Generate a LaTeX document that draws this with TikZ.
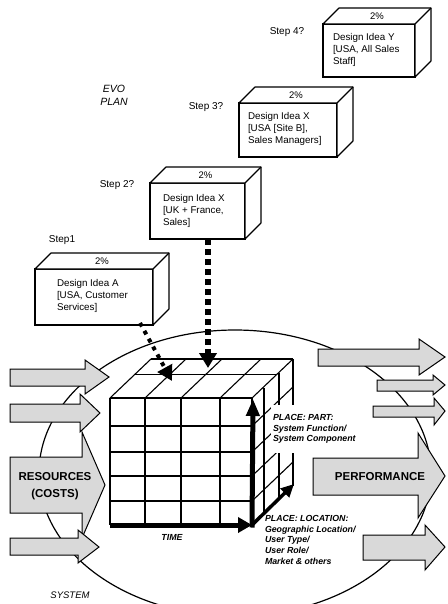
\documentclass[tikz,border=0pt]{standalone}
\usepackage{fontspec}
\setmainfont{Liberation Sans}
\usetikzlibrary{arrows.meta,calc}
\newcommand\evoarrow[8]{\draw[blockarrow] (#1,#2) -- (#4,#2) -- (#4,#5) -- (#7,#8) -- (#4,#6) -- (#4,#3) -- (#1,#3) -- cycle;}
\begin{document}
\begin{tikzpicture}[x=1pt,y=-1pt,
  every node/.style={inner sep=0pt, outer sep=0pt},
  face/.style={draw, line width=1.1pt, line join=round},
  frontface/.style={draw, line width=1.1pt, fill=white},
  boxtext/.style={anchor=north west, align=left, font=\fontsize{9.8}{12}\selectfont},
  steplabel/.style={font=\fontsize{10}{12}\selectfont},
  pct/.style={font=\fontsize{9.5}{11}\selectfont},
  blockarrow/.style={draw, line width=1pt, fill=black!15, line join=miter},
  gridline/.style={line width=1.1pt},
  placelabel/.style={anchor=north west, align=left, fill=white, font=\bfseries\itshape\fontsize{8.8}{10.9}\selectfont},
  dotarrow/.style={line width=4pt, dash pattern=on 4pt off 5pt, -{Triangle[length=15pt,width=16pt]}},
  dasharrow/.style={line width=6pt, dash pattern=on 6pt off 4pt, -{Triangle[length=15pt,width=17pt]}},
]
\useasboundingbox (0,0) rectangle (447,604);

% system ellipse
\draw[line width=1.2pt] (235,473) ellipse [x radius=196, y radius=143];

% resource arrows (left)
\evoarrow{10}{369}{386}{85}{360}{394}{109}{377}
\evoarrow{10}{404}{422}{80}{394}{432}{100}{413}
\evoarrow{10}{457}{513}{82}{432}{538}{105}{485}
\evoarrow{10}{538}{555}{78}{530}{563}{99}{547}
% performance arrows (right)
\evoarrow{318}{349}{366}{419}{339}{375}{445}{357}
\evoarrow{377}{380}{391}{433}{375}{395}{445}{385}
\evoarrow{373}{406}{417}{434}{398}{425}{445}{411}
\evoarrow{313}{458}{495}{418}{433}{518}{445}{476}
\evoarrow{363}{535}{560}{425}{525}{570}{445}{547}

\node[font=\bfseries\fontsize{11.5}{17}\selectfont, align=center] (res) at (55,486) {RESOURCES\\(COSTS)};
\node[font=\bfseries\fontsize{11.5}{14}\selectfont] (perf) at (380,477) {PERFORMANCE};

% cube: front face grid
\fill[white] (110,398) -- (151,359) -- (293,359) -- (293,486) -- (252,525) -- (110,525) -- cycle;
\foreach \x in {110,145,181,220,252} \draw[gridline] (\x,398) -- (\x,525);
\foreach \y in {398,426,452,476,501,525} \draw[gridline] (110,\y) -- (252,\y);
% top face
\foreach \x in {110,145,181,220,252} \draw[gridline] (\x,398) -- ++(41,-39);
\draw[gridline] (151,359) -- (293,359);
\draw[gridline] (134.6,374.6) -- (276.6,374.6);
% right face
\foreach \y in {426,452,476,501} \draw[gridline] (252,\y) -- ++(41,-39);
\draw[gridline] (264,387.5) -- (264,514.5);
\draw[gridline] (279,373) -- (279,500);
\draw[gridline] (293,359) -- (293,486);

% cube labels (white background cuts the right face)
\node[placelabel, inner xsep=2pt, inner ysep=9pt] (part) at (271,405) {PLACE: PART:\\System Function/\\System Component};
\node[placelabel, inner xsep=1pt, inner ysep=1pt] (loc) at (264,514) {PLACE: LOCATION:\\Geographic Location/\\User Type/\\User Role/\\Market \& others};

% cube axes
\coordinate (o) at (252,525);
\coordinate (tx) at (110,525);
\coordinate (ty) at (253,399);
\coordinate (tz) at (294,484);
\draw[line width=5pt, -{Triangle[length=14pt,width=15pt]}] (tx) -- (o);
\draw[line width=5pt, -{Triangle[length=17pt,width=13pt]}] ([yshift=-2.5pt]o) -- (ty);
\draw[line width=3.5pt, -{Triangle[length=13pt,width=12pt]}] (o) -- (tz);
\node[font=\bfseries\itshape\fontsize{8.8}{11}\selectfont] (time) at (172,537) {TIME};
\node[font=\itshape\fontsize{9.5}{11}\selectfont] (sys) at (70,595) {SYSTEM};
\node[font=\itshape\fontsize{10.5}{13}\selectfont, align=center] (evo) at (114,95) {EVO\\PLAN};

% step boxes
\node[frontface, minimum width=118pt, minimum height=56pt] (b1) at (94,297) {};
\node[frontface, minimum width=95pt, minimum height=56pt] (b2) at (197.5,211) {};
\node[frontface, minimum width=98pt, minimum height=54pt] (b3) at (288,130) {};
\node[frontface, minimum width=92pt, minimum height=53pt] (b4) at (369,50.5) {};
\foreach \b in {b1,b2,b3,b4}{
  \draw[face, fill=white] (\b.north west) -- ++(16,-16) -- ($(\b.north east)+(16,-16)$) -- ($(\b.south east)+(16,-16)$) -- (\b.south east) -- (\b.north east) -- cycle;
  \draw[face] (\b.north east) -- ++(16,-16);
  \node[pct] (\b p) at ($(\b.north)+(8,-8)$) {2\%};
}
\node[boxtext] (b1t) at (57,279) {Design Idea A\\{[}USA, Customer\\Services]};
\node[boxtext] (b2t) at (163,194) {Design Idea X\\{[}UK + France,\\Sales]};
\node[boxtext] (b3t) at (248,112) {Design Idea X\\{[}USA {[}Site B],\\Sales Managers]};
\node[boxtext] (b4t) at (333,33) {Design Idea Y\\{[}USA, All Sales\\Staff]};

\node[steplabel] (s1) at (62,240) {Step1};
\node[steplabel] (s2) at (117,185) {Step 2?};
\node[steplabel] (s3) at (206,107) {Step 3?};
\node[steplabel] (s4) at (287,32) {Step 4?};

% implementation arrows into the cube
\coordinate (t1) at (172,381);
\coordinate (t2) at (208,368);
\draw[dotarrow] ([xshift=-13pt,yshift=2pt]b1.south east) -- (t1);
\draw[dasharrow] ([xshift=10.5pt]b2.south) -- (t2);
\end{tikzpicture}
\end{document}
